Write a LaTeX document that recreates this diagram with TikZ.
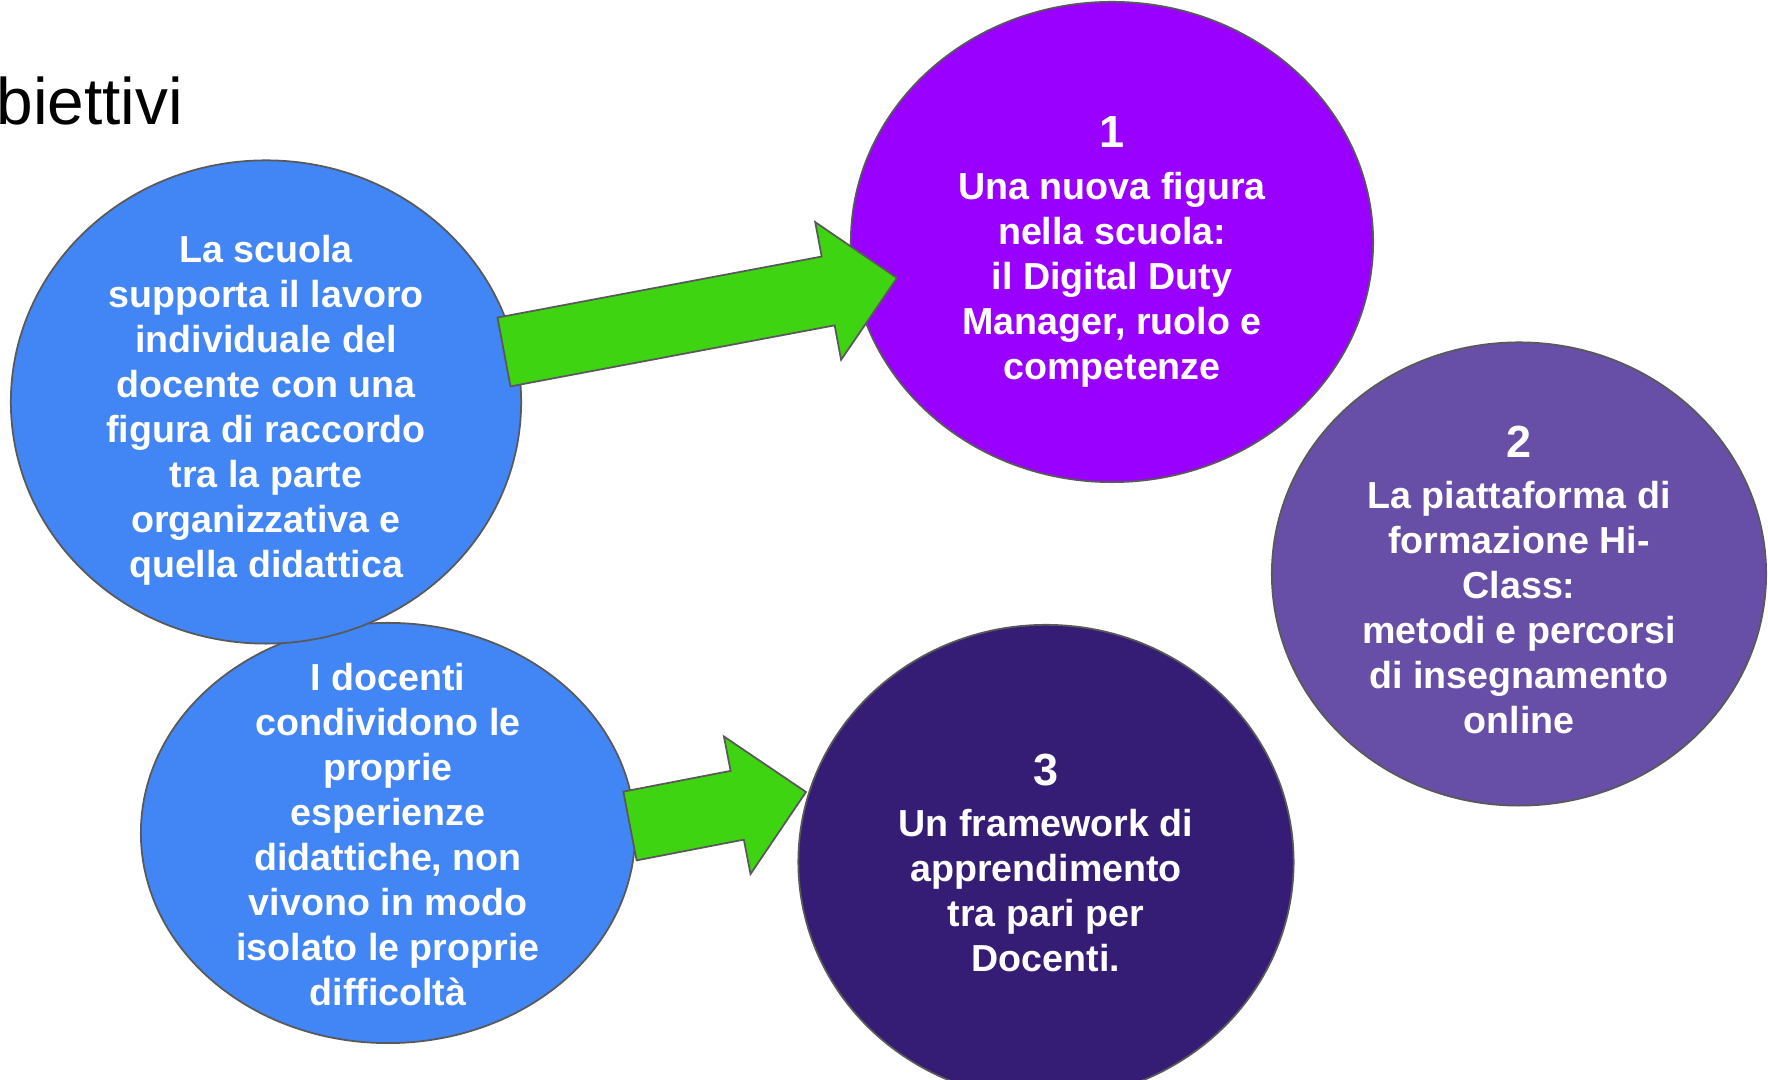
\documentclass[tikz,border=0pt]{standalone}
\usepackage{fontspec}
\setmainfont{Liberation Sans}
\usetikzlibrary{calc,shapes.geometric}
\definecolor{bluebub}{HTML}{4285F4}
\definecolor{violetbub}{HTML}{9900FF}
\definecolor{lilacbub}{HTML}{674EA7}
\definecolor{darkbub}{HTML}{351C75}
\definecolor{arrowgreen}{HTML}{3FD411}
\definecolor{rimgray}{HTML}{595959}
\newcommand{\stepno}[1]{{\fontsize{12.8pt}{12.8pt}\selectfont #1}\\[1.8pt]}
\tikzset{bubble/.style={ellipse,draw=rimgray,line width=0.5pt,inner sep=0pt},
    fat arrow/.style={draw=rimgray,fill=arrowgreen,line width=0.5pt,to path={
    ($(\tikztostart)!.35cm!90:(\tikztotarget)$)
    -- ($($(\tikztotarget)!.7cm!(\tikztostart)$)!.35cm!90:(\tikztotarget)$)
    -- ($($(\tikztotarget)!.7cm!(\tikztostart)$)!.7cm!90:(\tikztotarget)$)
    -- (\tikztotarget)
    -- ($($(\tikztotarget)!.7cm!(\tikztostart)$)!.7cm!-90:(\tikztotarget)$)
    -- ($($(\tikztotarget)!.7cm!(\tikztostart)$)!.35cm!-90:(\tikztotarget)$)
    -- ($(\tikztostart)!.35cm!-90:(\tikztotarget)$) -- cycle}}}

\begin{document}
\begin{tikzpicture}[x=0.01cm,y=-0.01cm,
    txt/.style={text=white,align=center,inner sep=0pt,
        font=\fontsize{10.7pt}{12.8pt}\selectfont\bfseries}]
        \clip (0,0) rectangle (1768,1080);

        \node[font=\fontsize{18.7pt}{22pt}\selectfont,anchor=base west,inner sep=0pt] (title) at (-4,125) {biettivi};

        % bubbles
        \node[bubble,fill=bluebub,minimum width=4.94cm,minimum height=4.20cm] (b2) at (388,833) {};
        \node[bubble,fill=bluebub,minimum width=5.10cm,minimum height=4.83cm] (b1) at (266,402) {};
        \node[bubble,fill=violetbub,minimum width=5.22cm,minimum height=4.80cm] (p1) at (1112,242) {};
        \node[bubble,fill=lilacbub,minimum width=4.94cm,minimum height=4.63cm] (p2) at (1519,574) {};
        \node[bubble,fill=darkbub,minimum width=4.95cm,minimum height=4.74cm] (d3) at (1046,862) {};

        % arrows
        \coordinate (a1s) at (504,352);
        \coordinate (a1e) at (897,278);
        \coordinate (a2s) at (630,826);
        \coordinate (a2e) at (806,792);
        \path[fat arrow] (a1s) to (a1e);
        \path[fat arrow] (a2s) to (a2e);

        \node[txt] (b1t) at ($(b1)+(0,8)$) {La scuola\\supporta il lavoro\\individuale del\\docente con una\\figura di raccordo\\tra la parte\\organizzativa e\\quella didattica};
        \node[txt] (b2t) at ($(b2)+(0,2)$) {I docenti\\condividono le\\proprie\\esperienze\\didattiche, non\\vivono in modo\\isolato le proprie\\difficoltà};
        \node[txt] (p1t) at ($(p1)+(0,10)$) {\stepno{1}Una nuova figura\\nella scuola:\\il Digital Duty\\Manager, ruolo e\\competenze};
        \node[txt] (p2t) at ($(p2)+(0,6)$) {\stepno{2}La piattaforma di\\formazione Hi-\\Class:\\metodi e percorsi\\di insegnamento\\online};
        \node[txt] (d3t) at ($(d3)+(0,1)$) {\stepno{3}Un framework di\\apprendimento\\tra pari per\\Docenti.};
\end{tikzpicture}
\end{document}
